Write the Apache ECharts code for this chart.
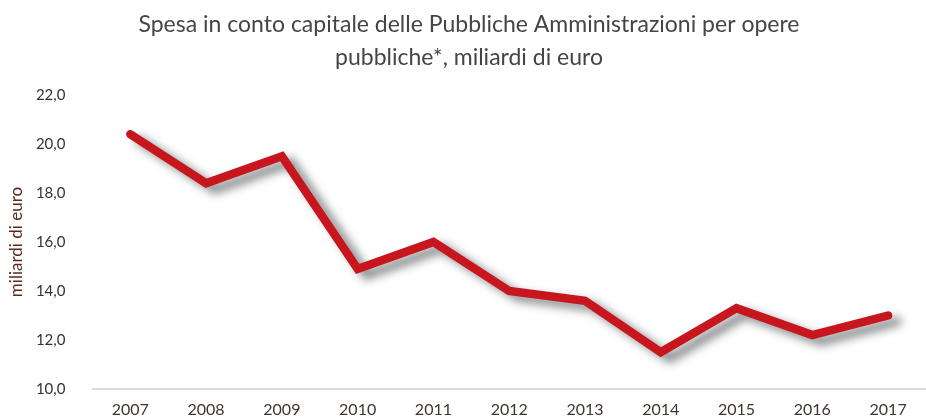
<!DOCTYPE html>
<html>
<head>
<meta charset="utf-8">
<script src="https://cdn.jsdelivr.net/npm/echarts@6/dist/echarts.min.js"></script>
<style>
  html, body { margin: 0; padding: 0; background: #ffffff; }
  #chart { width: 926px; height: 419px; }
</style>
</head>
<body>
<div id="chart"></div>
<script>
// Capital expenditure of public administrations on public works, billions of euro
const years = ['2007', '2008', '2009', '2010', '2011', '2012', '2013', '2014', '2015', '2016', '2017'];
const spesa = [20.4, 18.4, 19.5, 14.9, 16.0, 14.0, 13.6, 11.5, 13.3, 12.2, 13.0];
const yTicks = [10, 12, 14, 16, 18, 20, 22];

const chart = echarts.init(document.getElementById('chart'));
const fmt = v => v.toFixed(1).replace('.', ',');
const FONT = 'Lato';

chart.setOption({
  backgroundColor: '#ffffff',
  animation: false,
  title: {
    text: 'Spesa in conto capitale delle Pubbliche Amministrazioni per opere\npubbliche*, miliardi di euro',
    left: 464,
    top: 3,
    textAlign: 'center',
    textStyle: {
      fontFamily: FONT,
      fontWeight: 'normal',
      fontSize: 23,
      lineHeight: 33,
      color: '#454545'
    }
  },
  grid: {
    left: 83,
    top: 95,
    width: 855,
    height: 294,
    containLabel: false
  },
  xAxis: {
    type: 'category',
    data: years,
    boundaryGap: true,
    axisLine: { show: true, lineStyle: { color: '#cfcfcf', width: 1.5 } },
    axisTick: { show: false },
    axisLabel: {
      margin: 13,
      fontFamily: FONT,
      fontSize: 16,
      color: '#403530'
    }
  },
  yAxis: {
    type: 'value',
    min: yTicks[0],
    max: yTicks[yTicks.length - 1],
    interval: 2,
    name: 'miliardi di euro',
    nameLocation: 'middle',
    nameRotate: 90,
    nameGap: 66,
    nameTextStyle: {
      fontFamily: FONT,
      fontSize: 17,
      color: '#5c2a1e'
    },
    axisLine: { show: false },
    axisTick: { show: false },
    splitLine: { show: false },
    axisLabel: {
      margin: 27,
      fontFamily: FONT,
      fontSize: 15,
      color: '#3a302c',
      formatter: v => fmt(v)
    }
  },
  series: [{
    type: 'line',
    data: spesa,
    symbol: 'none',
    lineStyle: {
      color: '#c8161e',
      width: 8.5,
      cap: 'round',
      join: 'miter',
      shadowColor: 'rgba(70,75,80,0.7)',
      shadowBlur: 10,
      shadowOffsetX: 9,
      shadowOffsetY: 6
    }
  }]
});
</script>
</body>
</html>
